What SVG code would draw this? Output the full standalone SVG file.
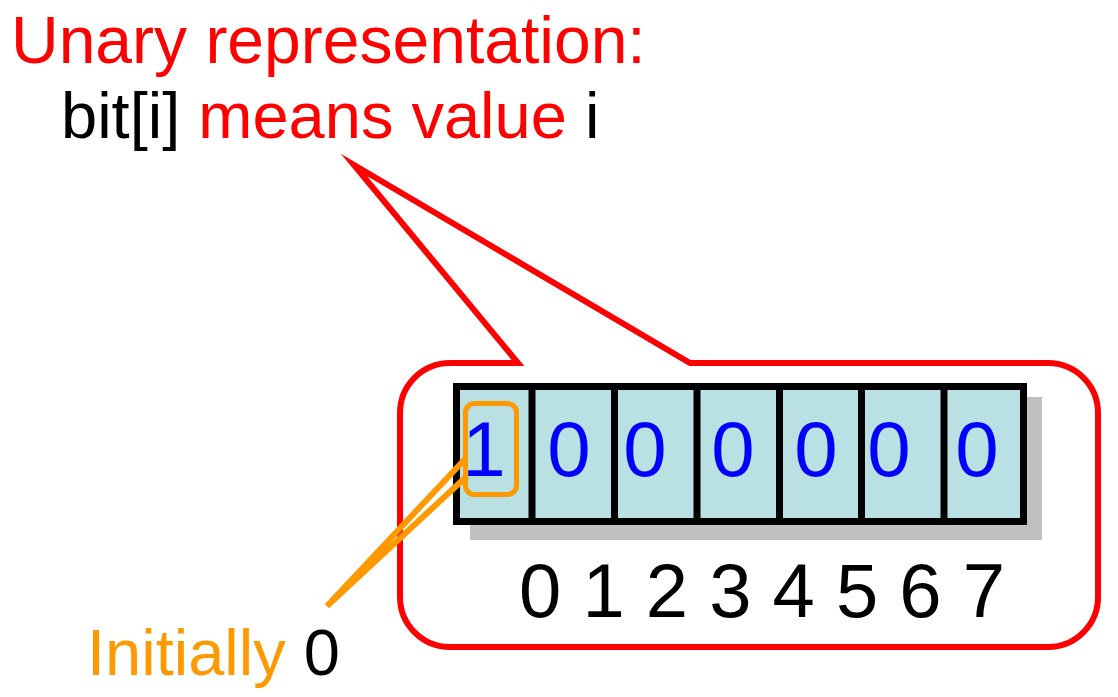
<svg xmlns="http://www.w3.org/2000/svg" width="1118" height="697" viewBox="0 0 1118 697">
<style>
text{font-family:"Liberation Sans",Arial,sans-serif}
.red{fill:#FF0000}
.blk{fill:#000000}
.org{fill:#FF9900}
.bit{fill:#0000FF;font-size:78px;text-anchor:middle}
.cell{fill:#B9E0E3;stroke:#000;stroke-width:7}
.div{stroke:#000;stroke-width:7}
</style>
<rect width="1118" height="697" fill="#fff"/>
<g id="title">
<text x="11" y="63" font-size="66" class="red">Unary representation:</text>
<text x="61" y="138" font-size="65"><tspan class="blk">bit[i] </tspan><tspan class="red">means value </tspan><tspan class="blk">i</tspan></text>
</g>
<g id="callout">
<path d="M518,363 L450,363 A50,50 0 0 0 400,413 L400,597 A50,50 0 0 0 450,647 L1048,647 A50,50 0 0 0 1098,597 L1098,413 A50,50 0 0 0 1048,363 L690,363 L354,165 Z" fill="#fff" stroke="#FF0000" stroke-width="6" stroke-linejoin="miter" stroke-miterlimit="20"/>
</g>
<g id="array">
<rect x="470" y="397" width="572" height="143" fill="#C0C0C0"/>
<rect x="456.5" y="386.5" width="567" height="135" class="cell"/>
<line x1="532" y1="386" x2="532" y2="522" class="div"/>
<line x1="614.5" y1="386" x2="614.5" y2="522" class="div"/>
<line x1="697" y1="386" x2="697" y2="522" class="div"/>
<line x1="779.5" y1="386" x2="779.5" y2="522" class="div"/>
<line x1="861.5" y1="386" x2="861.5" y2="522" class="div"/>
<line x1="944" y1="386" x2="944" y2="522" class="div"/>
<text x="484" y="476" class="bit">1</text>
<text x="569" y="476" class="bit">0</text>
<text x="645" y="476" class="bit">0</text>
<text x="733" y="476" class="bit">0</text>
<text x="816" y="476" class="bit">0</text>
<text x="889" y="476" class="bit">0</text>
<text x="977" y="476" class="bit">0</text>
</g>
<g id="indices">
<text x="519" y="617" font-size="76" class="blk">0 1 2 3 4 5 6 7</text>
</g>
<g id="connectors">
<rect x="465.5" y="403.5" width="51" height="91" rx="9" fill="none" stroke="#FF9900" stroke-width="5"/>
<polyline points="466,458 327,606 467,476" fill="none" stroke="#FF9900" stroke-width="6" stroke-linejoin="miter"/>
</g>
<g id="note">
<text x="87" y="675" font-size="65"><tspan class="org">Initially </tspan><tspan class="blk">0</tspan></text>
</g>
</svg>
